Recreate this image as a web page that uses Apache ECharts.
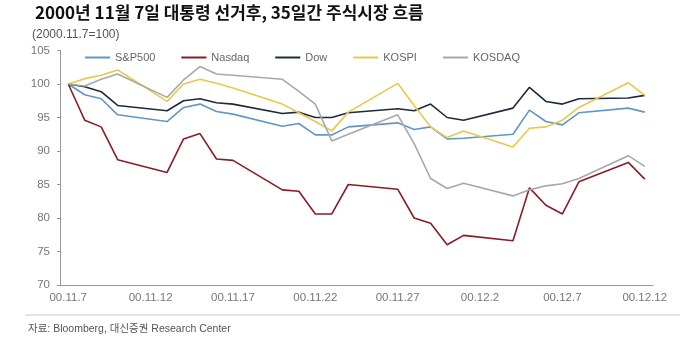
<!DOCTYPE html>
<html><head><meta charset="utf-8">
<script src="https://cdn.jsdelivr.net/npm/echarts@6/dist/echarts.min.js"></script>
<style>html,body{margin:0;padding:0;background:#fff}#c{width:680px;height:346px}</style>
</head><body><div id="c"></div>
<script>
const dates = ['00.11.7','00.11.8','00.11.9','00.11.10','00.11.11','00.11.12','00.11.13','00.11.14','00.11.15','00.11.16','00.11.17','00.11.18','00.11.19','00.11.20','00.11.21','00.11.22','00.11.23','00.11.24','00.11.25','00.11.26','00.11.27','00.11.28','00.11.29','00.11.30','00.12.1','00.12.2','00.12.3','00.12.4','00.12.5','00.12.6','00.12.7','00.12.8','00.12.9','00.12.10','00.12.11','00.12.12'];
const sp500  = [100,98.4,97.8,95.4,null,null,94.4,96.5,97.0,95.9,95.5,null,null,93.7,94.1,92.4,92.4,93.6,null,null,94.2,93.2,93.6,91.8,91.9,null,null,92.5,96.1,94.4,93.9,95.7,null,null,96.4,95.8];
const nasdaq = [100,94.6,93.6,88.7,null,null,86.8,91.8,92.6,88.8,88.6,null,null,84.2,84.0,80.6,80.6,85.0,null,null,84.3,80.0,79.2,76.0,77.4,null,null,76.6,84.5,81.9,80.6,85.4,null,null,88.3,85.8];
const dow    = [100,99.6,98.85,96.8,null,null,96.0,97.5,97.8,97.2,97.0,null,null,95.6,95.8,95.0,95.0,95.7,null,null,96.3,96.0,97.0,95.0,94.6,null,null,96.4,99.5,97.4,97.0,97.8,null,null,97.9,98.3];
const kospi  = [100,100.8,101.3,102.1,null,null,97.4,100.0,100.7,100.1,99.4,null,null,97.0,95.7,94.4,93.0,95.8,null,null,100.1,96.8,93.6,92.0,93.0,null,null,90.6,93.4,93.6,94.6,96.5,null,null,100.2,98.3];
const kosdaq = [100,99.7,100.7,101.5,null,null,98.0,100.6,102.6,101.5,101.3,null,null,100.7,98.9,97.0,91.5,92.5,null,null,95.4,91.1,85.9,84.4,85.2,null,null,83.3,84.2,84.8,85.1,85.9,null,null,89.3,87.7];
const seriesNames = ['S&P500','Nasdaq','Dow','KOSPI','KOSDAQ'];
const seriesData = [sp500, nasdaq, dow, kospi, kosdaq];
const colors = ['#6196c6','#8b1c24','#1f2a3c','#e8c84a','#a8a8a8'];

const chart = echarts.init(document.getElementById('c'), null, {renderer:'canvas'});
const font = '"Liberation Sans", Arial, "Noto Sans CJK KR", sans-serif';
chart.setOption({
  animation:false,
  color: colors,
  title:[
    {text:'2000년 11월 7일 대통령 선거후, 35일간 주식시장 흐름', left:35, top:4, padding:0,
     textStyle:{fontFamily:'"Noto Sans CJK KR", sans-serif', fontWeight:'bold', fontSize:17, color:'#111'}},
    {text:'(2000.11.7=100)', left:32, top:29, padding:0,
     textStyle:{fontFamily:font, fontWeight:'normal', fontSize:12, color:'#555'}},
    {text:'자료: Bloomberg, 대신증권 Research Center', left:28, top:324, padding:0,
     textStyle:{fontFamily:font, fontWeight:'normal', fontSize:10.5, color:'#555'}}
  ],
  graphic:[{type:'line', shape:{x1:25,y1:315,x2:680,y2:315}, style:{stroke:'#c8c8c8', lineWidth:1}}],
  legend:{
    data: seriesNames, left:85, top:52, padding:0, itemWidth:25, itemHeight:2, itemGap:26, icon:'rect',
    textStyle:{fontFamily:font, fontSize:11, color:'#666'}
  },
  grid:{left:60, right:27, top:50.5, bottom:61},
  xAxis:{
    type:'category', data: dates, boundaryGap:true,
    axisLine:{lineStyle:{color:'#999'}},
    axisTick:{interval:4, length:4, lineStyle:{color:'#999'}},
    axisLabel:{interval:4, margin:7, fontFamily:font, fontSize:11.5, color:'#777'}
  },
  yAxis:{
    type:'value', min:70, max:105, interval:5,
    axisLine:{show:true, lineStyle:{color:'#999'}},
    axisTick:{show:true, length:3, lineStyle:{color:'#999'}},
    splitLine:{show:false},
    axisLabel:{margin:10, fontFamily:font, fontSize:11.5, color:'#777'}
  },
  series: seriesNames.map((n,i)=>({
    name:n, type:'line', data: seriesData[i], connectNulls:true, symbol:'none',
    lineStyle:{width:1.6, color: colors[i]}, itemStyle:{color: colors[i]}
  }))
});
</script></body></html>
